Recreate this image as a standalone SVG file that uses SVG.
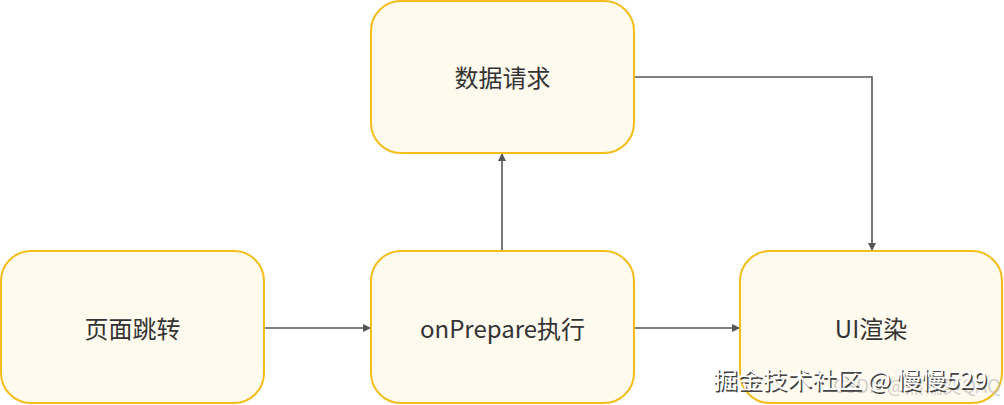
<svg xmlns="http://www.w3.org/2000/svg" width="1004" height="405" viewBox="0 0 1004 405">
<style>
.box{fill:#fffaee;stroke:#f4bd1a;stroke-width:2}
.lbl{font-family:"Noto Sans CJK SC","Noto Sans",sans-serif;font-size:24px;fill:#333;text-anchor:middle;dominant-baseline:central}
.edge{fill:none;stroke:#555;stroke-width:1.6}
.wm{font-family:"Noto Sans CJK SC","Noto Sans",sans-serif;font-size:23px}
.wm2{font-family:"Noto Sans CJK SC","Noto Sans",sans-serif;font-size:18px;fill:#bbb;fill-opacity:0.7}
</style>
<defs>
<marker id="arr" viewBox="0 0 10 10" refX="10" refY="5" markerWidth="9" markerHeight="8" markerUnits="userSpaceOnUse" orient="auto">
<path d="M0,0 L10,5 L0,10 z" fill="#555"/>
</marker>
</defs>
<rect width="1004" height="405" fill="#fff"/>
<g id="edges">
<path class="edge" d="M264,328 H371" marker-end="url(#arr)"/>
<path class="edge" d="M634,328 H740" marker-end="url(#arr)"/>
<path class="edge" d="M502,251 V153" marker-end="url(#arr)"/>
<path class="edge" d="M634,77 H872 V251" marker-end="url(#arr)"/>
</g>
<g id="n-page">
<rect class="box" x="1" y="251" width="263" height="152" rx="30"/>
<text class="lbl" x="132.5" y="327">页面跳转</text>
</g>
<g id="n-data">
<rect class="box" x="371" y="1" width="263" height="152" rx="30"/>
<text class="lbl" x="502.5" y="76">数据请求</text>
</g>
<g id="n-prepare">
<rect class="box" x="371" y="251" width="263" height="152" rx="30"/>
<text class="lbl" x="502.5" y="327">onPrepare执行</text>
</g>
<g id="n-ui">
<rect class="box" x="740" y="251" width="262" height="152" rx="30"/>
<text class="lbl" x="871" y="327">UI渲染</text>
</g>
<g id="watermark">
<text class="wm2" x="833" y="393" textLength="168" lengthAdjust="spacingAndGlyphs">CSDN @熊糯奕QAQ</text>
<text class="wm" x="714.5" y="389.5" fill="#444" textLength="274" lengthAdjust="spacingAndGlyphs">掘金技术社区 @ 慢慢529</text>
<text class="wm" x="713" y="388" fill="#fff" textLength="274" lengthAdjust="spacingAndGlyphs">掘金技术社区 @ 慢慢529</text>
</g>
</svg>
